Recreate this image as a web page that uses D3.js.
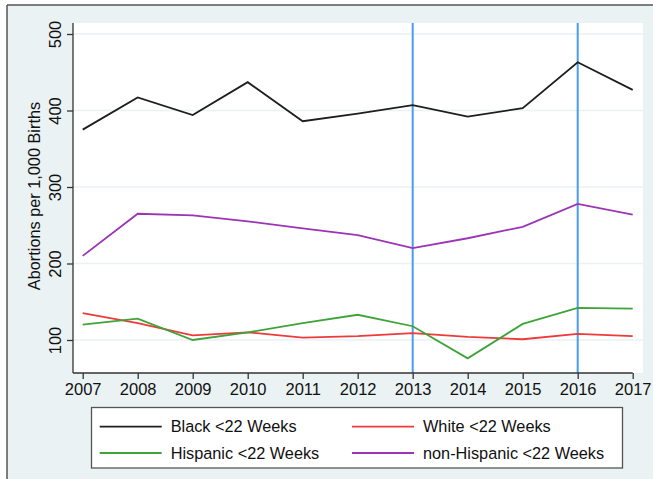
<!DOCTYPE html>
<html>
<head>
<meta charset="utf-8">
<script src="https://cdn.jsdelivr.net/npm/d3@7/dist/d3.min.js"></script>
<style>
html,body{margin:0;padding:0;background:#fff;}
svg{display:block;}
text{font-family:"Liberation Sans", Arial, Helvetica, sans-serif;fill:#111;}
</style>
</head>
<body>
<script>
const years = [2007, 2008, 2009, 2010, 2011, 2012, 2013, 2014, 2015, 2016, 2017];
const black = [375, 417, 394, 437, 386, 396, 407, 392, 403, 463, 427];
const white = [135, 122, 106, 110, 103, 105, 109, 104, 101, 108, 105];
const hispanic = [120, 128, 100, 110, 122, 133, 118, 76, 121, 142, 141];
const nonHispanic = [210, 265, 263, 255, 246, 237, 220, 233, 248, 278, 264];
const yTicks = [100, 200, 300, 400, 500];
const refYears = [2013, 2016];
const seriesNames = ["Black <22 Weeks", "White <22 Weeks", "Hispanic <22 Weeks", "non-Hispanic <22 Weeks"];
const seriesColors = ["#1e1e1e", "#ee3a3a", "#3fa33a", "#9b35b5"];
const seriesData = [black, white, hispanic, nonHispanic];

const W = 653, H = 479;
const svg = d3.select("body").append("svg").attr("width", W).attr("height", H);

// outer background
svg.append("rect").attr("x", 0).attr("y", 0).attr("width", W).attr("height", H).attr("fill", "#fff");
svg.append("rect").attr("x", 7).attr("y", 5).attr("width", W - 7).attr("height", H - 5).attr("fill", "#eaf2f3");
svg.append("line").attr("x1", 7).attr("x2", W).attr("y1", 5).attr("y2", 5).attr("stroke", "#555").attr("stroke-width", 1.5);
svg.append("line").attr("x1", 7).attr("x2", 7).attr("y1", 5).attr("y2", H).attr("stroke", "#555").attr("stroke-width", 1.5);

const plot = {left: 73, right: 643, top: 23, bottom: 373};
svg.append("rect").attr("x", plot.left).attr("y", plot.top)
  .attr("width", plot.right - plot.left).attr("height", plot.bottom - plot.top).attr("fill", "#fff");

const x = d3.scaleLinear().domain([2007, 2017]).range([82.7, 632.7]);
const y = d3.scaleLinear().domain([100, 500]).range([340, 34]);

// gridlines
svg.append("g").selectAll("line").data(yTicks).join("line")
  .attr("x1", plot.left).attr("x2", plot.right)
  .attr("y1", d => y(d)).attr("y2", d => y(d))
  .attr("stroke", "#eaf2f3").attr("stroke-width", 1.5);

// reference lines
svg.append("g").selectAll("line").data(refYears).join("line")
  .attr("x1", d => x(d)).attr("x2", d => x(d))
  .attr("y1", plot.top).attr("y2", plot.bottom)
  .attr("stroke", "#4a9cf2").attr("stroke-width", 2);

// series
const line = d3.line().x((d, i) => x(years[i])).y(d => y(d));
seriesData.forEach((s, k) => {
  svg.append("path").datum(s).attr("d", line)
    .attr("fill", "none").attr("stroke", seriesColors[k]).attr("stroke-width", 1.8)
    .attr("stroke-linejoin", "miter");
});

// y axis
const yAxis = d3.axisLeft(y).tickValues(yTicks).tickSize(6).tickPadding(5).tickFormat(d3.format("d"));
const gy = svg.append("g").attr("transform", `translate(${plot.left},0)`).call(yAxis);
gy.select(".domain").remove();
gy.append("line").attr("x1", 0).attr("x2", 0).attr("y1", plot.top).attr("y2", plot.bottom).attr("stroke", "#333").attr("stroke-width", 1.3);
gy.selectAll(".tick line").attr("stroke", "#333").attr("stroke-width", 1.3);
gy.selectAll(".tick text")
  .attr("font-size", 16.5).attr("fill", "#111")
  .attr("x", null).attr("dy", null)
  .attr("text-anchor", "middle")
  .attr("transform", "translate(-12.5,0) rotate(-90)")
  .attr("y", 0).attr("dy", 0);

// x axis
const xAxis = d3.axisBottom(x).tickValues(years).tickSize(6).tickPadding(4).tickFormat(d3.format("d"));
const gx = svg.append("g").attr("transform", `translate(0,${plot.bottom})`).call(xAxis);
gx.select(".domain").remove();
gx.append("line").attr("x1", plot.left).attr("x2", x(2017)).attr("y1", 0).attr("y2", 0).attr("stroke", "#333").attr("stroke-width", 1.3);
gx.selectAll(".tick line").attr("stroke", "#333").attr("stroke-width", 1.3);
gx.selectAll(".tick text").attr("font-size", 16.5).attr("fill", "#111");

// y title
svg.append("text").attr("transform", `translate(40,${(290 + 102) / 2}) rotate(-90)`)
  .attr("text-anchor", "middle").attr("font-size", 16.3).text("Abortions per 1,000 Births");

// legend
const lg = svg.append("g");
lg.append("rect").attr("x", 91.5).attr("y", 407.5).attr("width", 531).attr("height", 60.5)
  .attr("fill", "#fff").attr("stroke", "#555").attr("stroke-width", 1.3);
const legendPos = [[99.7, 426.6], [352, 426.6], [99.7, 453], [352, 453]];
seriesNames.forEach((name, k) => {
  const [lx, ly] = legendPos[k];
  lg.append("line").attr("x1", lx).attr("x2", lx + 62).attr("y1", ly).attr("y2", ly)
    .attr("stroke", seriesColors[k]).attr("stroke-width", 1.8);
  lg.append("text").attr("x", lx + 71).attr("y", ly).attr("dy", "0.35em")
    .attr("font-size", 16.3).text(name);
});
</script>
</body>
</html>
